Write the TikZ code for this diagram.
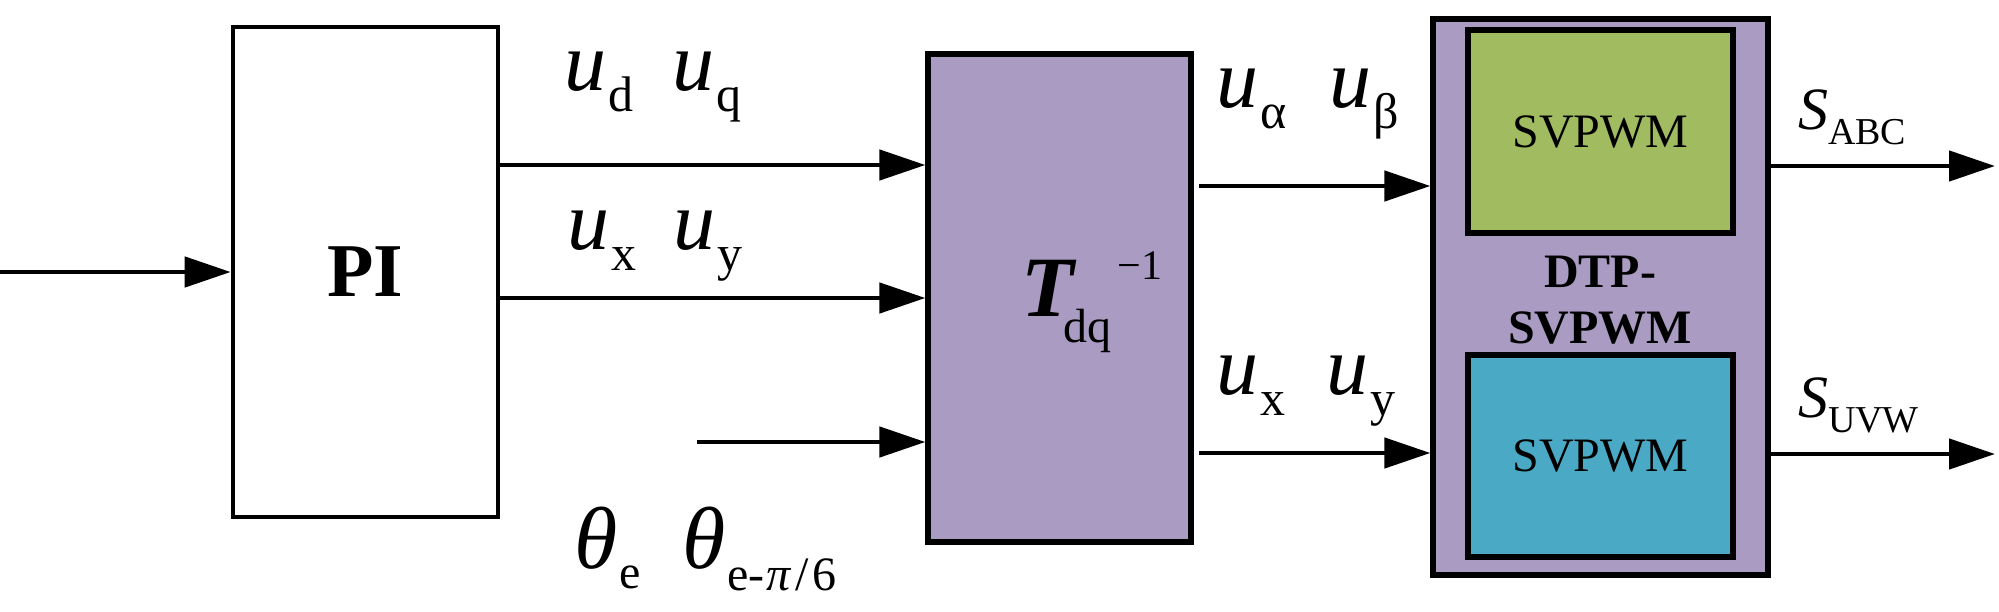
\documentclass[tikz,border=0pt]{standalone}
\usepackage{fontspec}
\setmainfont{Liberation Serif}
\usetikzlibrary{arrows.meta}
\definecolor{lav}{RGB}{169,155,193}
\definecolor{grn}{RGB}{160,187,96}
\definecolor{blu}{RGB}{74,170,198}
\newcommand{\fs}[1]{\fontsize{#1}{#1}\selectfont}
\newcommand{\usig}[2]{{\fs{42}\itshape u}\kern1pt\raisebox{-10.5pt}{\fs{25}#2}}
\begin{document}
\begin{tikzpicture}[x=0.5pt,y=-0.5pt,
  lab/.style={anchor=base west, inner sep=0pt, outer sep=0pt},
  arr/.style={line width=2.3pt, -{Triangle[length=23pt,width=15pt]}},
  blk/.style={draw, line width=2.3pt, inner sep=0pt},
  ibk/.style={draw, line width=2.6pt, inner sep=0pt}]
\useasboundingbox (0,0) rectangle (1999,611);
% blocks
\node[blk, minimum width=132.5pt, minimum height=245pt, font=\fs{38}\bfseries] (pi) at (365.5,272) {PI};
\node[ibk, fill=lav, minimum width=131.5pt, minimum height=244pt] (T) at (1059.5,298) {};
\node[ibk, fill=lav, minimum width=167.5pt, minimum height=278pt] (dtp) at (1600.5,297) {};
\node[ibk, fill=grn, minimum width=132.5pt, minimum height=101.5pt, font=\fs{24}] (sv1) at (1600.5,131.5) {SVPWM};
\node[ibk, fill=blu, minimum width=132.5pt, minimum height=101pt, font=\fs{24}] (sv2) at (1600.5,456) {SVPWM};
\node[inner sep=0pt, align=center, font=\fontsize{24}{28}\selectfont\bfseries] (dtpl) at (1600,300) {DTP-\\SVPWM};
% T_dq^-1
\node[lab] (tT) at (1021,316) {{\fs{43}\bfseries\itshape T}\kern-5pt\rlap{\raisebox{-13pt}{\fs{24}dq}}\kern27pt\raisebox{18.5pt}{\fs{21}−1}};
% coordinates
\coordinate (in) at (0,272);
\coordinate (th) at (697,442);
\coordinate (a1) at (1199,186);
\coordinate (a2) at (1199,453);
\coordinate (o1) at (1995,166);
\coordinate (o2) at (1995,454);
% connectors
\draw[arr] (in) -- (pi.west |- in);
\draw[arr] (pi.east |- 0,165) -- (T.west |- 0,165);
\draw[arr] (pi.east |- 0,298) -- (T.west |- 0,298);
\draw[arr] (th) -- (T.west |- th);
\draw[arr] (a1) -- (dtp.west |- a1);
\draw[arr] (a2) -- (dtp.west |- a2);
\draw[arr] (dtp.east |- o1) -- (o1);
\draw[arr] (dtp.east |- o2) -- (o2);
% labels
\node[lab] (ud) at (564,90) {\usig{u}{d}};
\node[lab] (uq) at (672,90) {\usig{u}{q}};
\node[lab] (ux1) at (567,249) {\usig{u}{x}};
\node[lab] (uy1) at (673,249) {\usig{u}{y}};
\node[lab] (ua) at (1216,107) {\usig{u}{α}};
\node[lab] (ub) at (1329,107) {\usig{u}{β}};
\node[lab] (ux2) at (1216,394) {\usig{u}{x}};
\node[lab] (uy2) at (1326,394) {\usig{u}{y}};
\node[lab] (sabc) at (1798,129) {{\fs{30}\itshape S}\raisebox{-7.5pt}{\fs{19}ABC}};
\node[lab] (suvw) at (1798,417) {{\fs{30}\itshape S}\raisebox{-7.5pt}{\fs{19}UVW}};
\node[lab] (the) at (574,568) {{\fs{44}\itshape θ}\kern1pt\raisebox{-10pt}{\fs{24}e}};
\node[lab] (thp) at (682,568) {{\fs{44}\itshape θ}\kern1pt\raisebox{-11pt}{\fs{24}e-\kern1pt\textit{π}\kern2pt/\kern2pt6}};
\end{tikzpicture}
\end{document}
